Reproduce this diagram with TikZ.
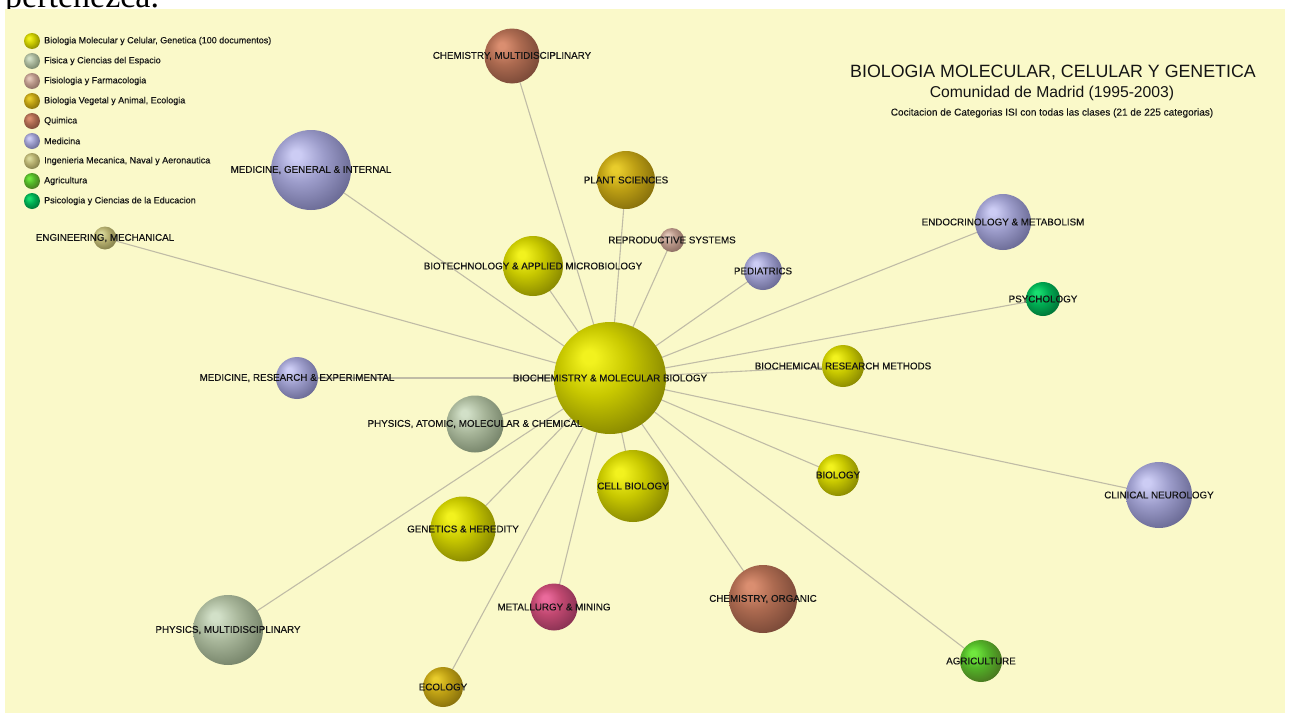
\documentclass[tikz,border=0pt]{standalone}
\usepackage{fontspec}
\setmainfont{Liberation Sans}
\newfontfamily\docserif{Liberation Serif}
\newfontfamily\labfont{Liberation Sans}[FakeBold=0.35]
\newfontfamily\legfont{Liberation Sans}[FakeBold=0.2]
\pgfdeclarelayer{back}
\pgfdeclarelayer{edges}
\pgfsetlayers{back,edges,main}
\pgfdeclareradialshading[sphhi,sphmid,sphlo]{sphere}{\pgfqpoint{-10bp}{10bp}}{%
  color(0bp)=(sphhi); color(3bp)=(sphhi); color(15bp)=(sphmid);
  color(33bp)=(sphlo); color(50bp)=(sphlo)}
\definecolor{bgyellow}{RGB}{250,249,201}
\definecolor{edgecol}{RGB}{192,188,166}
\definecolor{labcol}{RGB}{20,20,20}
\tikzset{
  tricol/.code n args={3}{\definecolor{sphhi}{RGB}{#1}\definecolor{sphmid}{RGB}{#2}\definecolor{sphlo}{RGB}{#3}},
  sphnode/.style={circle, inner sep=0pt, outer sep=0pt, shading=sphere, minimum size=#1},
  molec/.style={tricol={242,242,30}{200,200,0}{126,126,0}},
  fisica/.style={tricol={210,224,200}{168,182,154}{110,124,98}},
  fisio/.style={tricol={228,200,186}{186,152,138}{130,100,90}},
  veget/.style={tricol={232,204,44}{190,160,20}{126,104,10}},
  quim/.style={tricol={218,142,112}{172,106,80}{114,68,52}},
  medic/.style={tricol={204,204,244}{156,156,202}{98,98,140}},
  ingen/.style={tricol={218,218,156}{182,176,112}{122,118,68}},
  agri/.style={tricol={112,232,62}{82,180,40}{72,108,30}},
  psico/.style={tricol={24,222,112}{0,172,82}{0,106,50}},
  metal/.style={tricol={234,106,156}{192,72,112}{128,46,78}},
  edge/.style={draw=edgecol, line width=1.1pt},
  lab/.style={text=labcol, inner sep=0pt, font=\labfont\fontsize{9.8}{11}\selectfont},
  legtext/.style={anchor=west, inner sep=0pt, text=labcol, font=\legfont\fontsize{9}{10}\selectfont},
  ttl/.style={inner sep=0pt, text=labcol},
}
\begin{document}
\begin{tikzpicture}[x=1pt, y=-1pt]
\useasboundingbox (0,0) rectangle (1296,715);
\begin{pgfonlayer}{back}
  \fill[white] (0,0) rectangle (1296,715);
  \node[anchor=base west, inner sep=0pt, font=\docserif\fontsize{34}{36}\selectfont] (prev) at (5,7) {pertenezca.};
  \fill[bgyellow] (5,9) rectangle (1285,713);
\end{pgfonlayer}

% legend
\node[sphnode=16pt, molec] (g1) at (32,41) {};
\node[sphnode=16pt, fisica] (g2) at (32,61) {};
\node[sphnode=16pt, fisio] (g3) at (32,81) {};
\node[sphnode=16pt, veget] (g4) at (32,101) {};
\node[sphnode=16pt, quim] (g5) at (32,121) {};
\node[sphnode=16pt, medic] (g6) at (32,141) {};
\node[sphnode=16pt, ingen] (g7) at (32,161) {};
\node[sphnode=16pt, agri] (g8) at (32,181) {};
\node[sphnode=16pt, psico] (g9) at (32,201) {};
\node[legtext] (gt1) at (44,41) {Biologia Molecular y Celular, Genetica (100 documentos)};
\node[legtext] (gt2) at (44,61) {Fisica y Ciencias del Espacio};
\node[legtext] (gt3) at (44,81) {Fisiologia y Farmacologia};
\node[legtext] (gt4) at (44,101) {Biologia Vegetal y Animal, Ecologia};
\node[legtext] (gt5) at (44,121) {Quimica};
\node[legtext] (gt6) at (44,141) {Medicina};
\node[legtext] (gt7) at (44,161) {Ingenieria Mecanica, Naval y Aeronautica};
\node[legtext] (gt8) at (44,181) {Agricultura};
\node[legtext] (gt9) at (44,201) {Psicologia y Ciencias de la Educacion};

% titles
\node[ttl, font=\fontsize{17.8}{20}\selectfont] (title) at (1053,72) {BIOLOGIA MOLECULAR, CELULAR Y GENETICA};
\node[ttl, font=\fontsize{15.7}{18}\selectfont] (sub) at (1052,93) {Comunidad de Madrid (1995-2003)};
\node[ttl, font=\legfont\fontsize{10}{11}\selectfont] (sub2) at (1052,113) {Cocitacion de Categorias ISI con todas las clases (21 de 225 categorias)};

% spheres
\node[sphnode=112pt, molec] (hub) at (610,378) {};
\node[sphnode=55pt, quim] (cm) at (512,56) {};
\node[sphnode=80pt, medic] (mgi) at (311,170) {};
\node[sphnode=23pt, ingen] (em) at (105,238) {};
\node[sphnode=58pt, veget] (ps) at (626,180) {};
\node[sphnode=24pt, fisio] (rs) at (672,240) {};
\node[sphnode=60pt, molec] (bam) at (533,266) {};
\node[sphnode=38pt, medic] (ped) at (763,271) {};
\node[sphnode=56pt, medic] (endo) at (1003,222) {};
\node[sphnode=34pt, psico] (psy) at (1043,299) {};
\node[sphnode=42pt, medic] (mre) at (297,378) {};
\node[sphnode=42pt, molec] (brm) at (843,366) {};
\node[sphnode=57pt, fisica] (pam) at (475,424) {};
\node[sphnode=72pt, molec] (cb) at (633,486) {};
\node[sphnode=42pt, molec] (bio) at (838,475) {};
\node[sphnode=66pt, medic] (cn) at (1159,495) {};
\node[sphnode=65pt, molec] (gh) at (463,529) {};
\node[sphnode=47pt, metal] (mm) at (554,607) {};
\node[sphnode=68pt, quim] (co) at (763,599) {};
\node[sphnode=70pt, fisica] (pm) at (228,630) {};
\node[sphnode=42pt, agri] (agr) at (981,661) {};
\node[sphnode=40pt, veget] (eco) at (443,687) {};

% connectors
\begin{pgfonlayer}{edges}
\foreach \n in {cm,mgi,em,ps,rs,bam,ped,endo,psy,mre,brm,pam,cb,bio,cn,gh,mm,co,pm,agr,eco}
  \draw[edge] (hub.center) -- (\n.center);
\end{pgfonlayer}

% labels
\node[lab] (lcm) at (cm.center) {CHEMISTRY, MULTIDISCIPLINARY};
\node[lab] (lmgi) at (mgi.center) {MEDICINE, GENERAL \& INTERNAL};
\node[lab] (lem) at (em.center) {ENGINEERING, MECHANICAL};
\node[lab] (lps) at (ps.center) {PLANT SCIENCES};
\node[lab] (lrs) at (rs.center) {REPRODUCTIVE SYSTEMS};
\node[lab] (lbam) at (bam.center) {BIOTECHNOLOGY \& APPLIED MICROBIOLOGY};
\node[lab] (lped) at (ped.center) {PEDIATRICS};
\node[lab] (lendo) at (endo.center) {ENDOCRINOLOGY \& METABOLISM};
\node[lab] (lpsy) at (psy.center) {PSYCHOLOGY};
\node[lab] (lhub) at (hub.center) {BIOCHEMISTRY \& MOLECULAR BIOLOGY};
\node[lab] (lmre) at (mre.center) {MEDICINE, RESEARCH \& EXPERIMENTAL};
\node[lab] (lbrm) at (brm.center) {BIOCHEMICAL RESEARCH METHODS};
\node[lab] (lpam) at (pam.center) {PHYSICS, ATOMIC, MOLECULAR \& CHEMICAL};
\node[lab] (lcb) at (cb.center) {CELL BIOLOGY};
\node[lab] (lbio) at (bio.center) {BIOLOGY};
\node[lab] (lcn) at (cn.center) {CLINICAL NEUROLOGY};
\node[lab] (lgh) at (gh.center) {GENETICS \& HEREDITY};
\node[lab] (lmm) at (mm.center) {METALLURGY \& MINING};
\node[lab] (lco) at (co.center) {CHEMISTRY, ORGANIC};
\node[lab] (lpm) at (pm.center) {PHYSICS, MULTIDISCIPLINARY};
\node[lab] (lagr) at (agr.center) {AGRICULTURE};
\node[lab] (leco) at (eco.center) {ECOLOGY};
\end{tikzpicture}
\end{document}
